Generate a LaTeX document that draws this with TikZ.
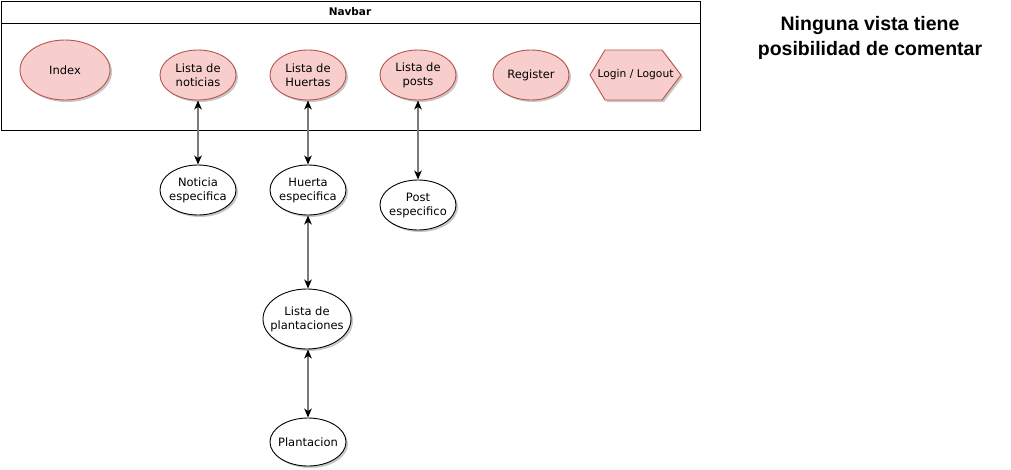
\documentclass[tikz,border=0pt]{standalone}
\usepackage{fontspec}
\setmainfont{DejaVu Sans}
\newfontfamily\headfont{Liberation Sans}
\usetikzlibrary{shapes.geometric,arrows.meta,shadows}
\definecolor{pinkfill}{HTML}{F8CECC}
\definecolor{pinkline}{HTML}{B85450}
\definecolor{connline}{HTML}{7A7A7A}
\begin{document}
\begin{tikzpicture}[x=1pt,y=-1pt,
  shade/.style={drop shadow={shadow xshift=2pt,shadow yshift=-2pt,opacity=0.22,fill=black}},
  page/.style={ellipse,draw=pinkline,fill=pinkfill,line width=0.9pt,inner sep=-6pt,
    minimum width=76pt,minimum height=50pt,align=center,font=\fontsize{11.5}{14}\selectfont,shade},
  view/.style={ellipse,draw=black,fill=white,line width=0.9pt,inner sep=-6pt,
    minimum width=76pt,minimum height=50pt,align=center,font=\fontsize{11.5}{14}\selectfont,shade},
  conn/.style={draw=connline,line width=1.4pt,
    {Stealth[black,length=9pt,width=7.5pt,inset=2.5pt]}-{Stealth[black,length=9pt,width=7.5pt,inset=2.5pt]}}
]
\useasboundingbox (0,0) rectangle (1011,469);

% navbar frame with its title bar
\draw[line width=1pt] (1,1) rectangle (700,130);
\draw[line width=1pt] (1,23) -- (700,23);
\node[font=\bfseries\fontsize{10.5}{12}\selectfont] (navtitle) at (350,12) {Navbar};

% pages reachable from the navbar
\node[page,minimum width=90pt,minimum height=60pt] (index) at (65,70) {Index};
\node[page] (lnot) at (198,75) {Lista de\\noticias};
\node[page] (lhue) at (308,75) {Lista de\\Huertas};
\node[page] (lpos) at (418,75) {Lista de\\posts};
\node[page] (reg) at (531,75) {Register};

% login / logout hexagon
\fill[black,opacity=0.22] (592,77) -- (607,52) -- (664,52) -- (683,77) -- (664,102) -- (607,102) -- cycle;
\draw[draw=pinkline,fill=pinkfill,line width=0.9pt]
  (590,75) -- (605,50) -- (662,50) -- (681,75) -- (662,100) -- (605,100) -- cycle;
\node[font=\fontsize{10.7}{12}\selectfont] (login) at (635.5,75) {Login / Logout};

% detail views
\node[view] (nesp) at (198,190) {Noticia\\especifica};
\node[view] (hesp) at (308,190) {Huerta\\especifica};
\node[view] (pesp) at (418,205) {Post\\especifico};
\node[view,minimum width=88pt,minimum height=60pt] (lpla) at (307,319) {Lista de\\plantaciones};
\node[view,minimum height=48pt] (pla) at (308,442) {Plantacion};

% navigation links
\draw[conn] (lnot) -- (nesp);
\draw[conn] (lhue) -- (hesp);
\draw[conn] (lpos) -- (pesp);
\draw[conn] (hesp) -- (hesp |- lpla.north);
\draw[conn] (hesp |- lpla.south) -- (pla);

% side note
\node[font=\headfont\bfseries\fontsize{19.5}{25}\selectfont,align=center] (note) at (870,38)
  {Ninguna vista tiene\\posibilidad de comentar};
\end{tikzpicture}
\end{document}
